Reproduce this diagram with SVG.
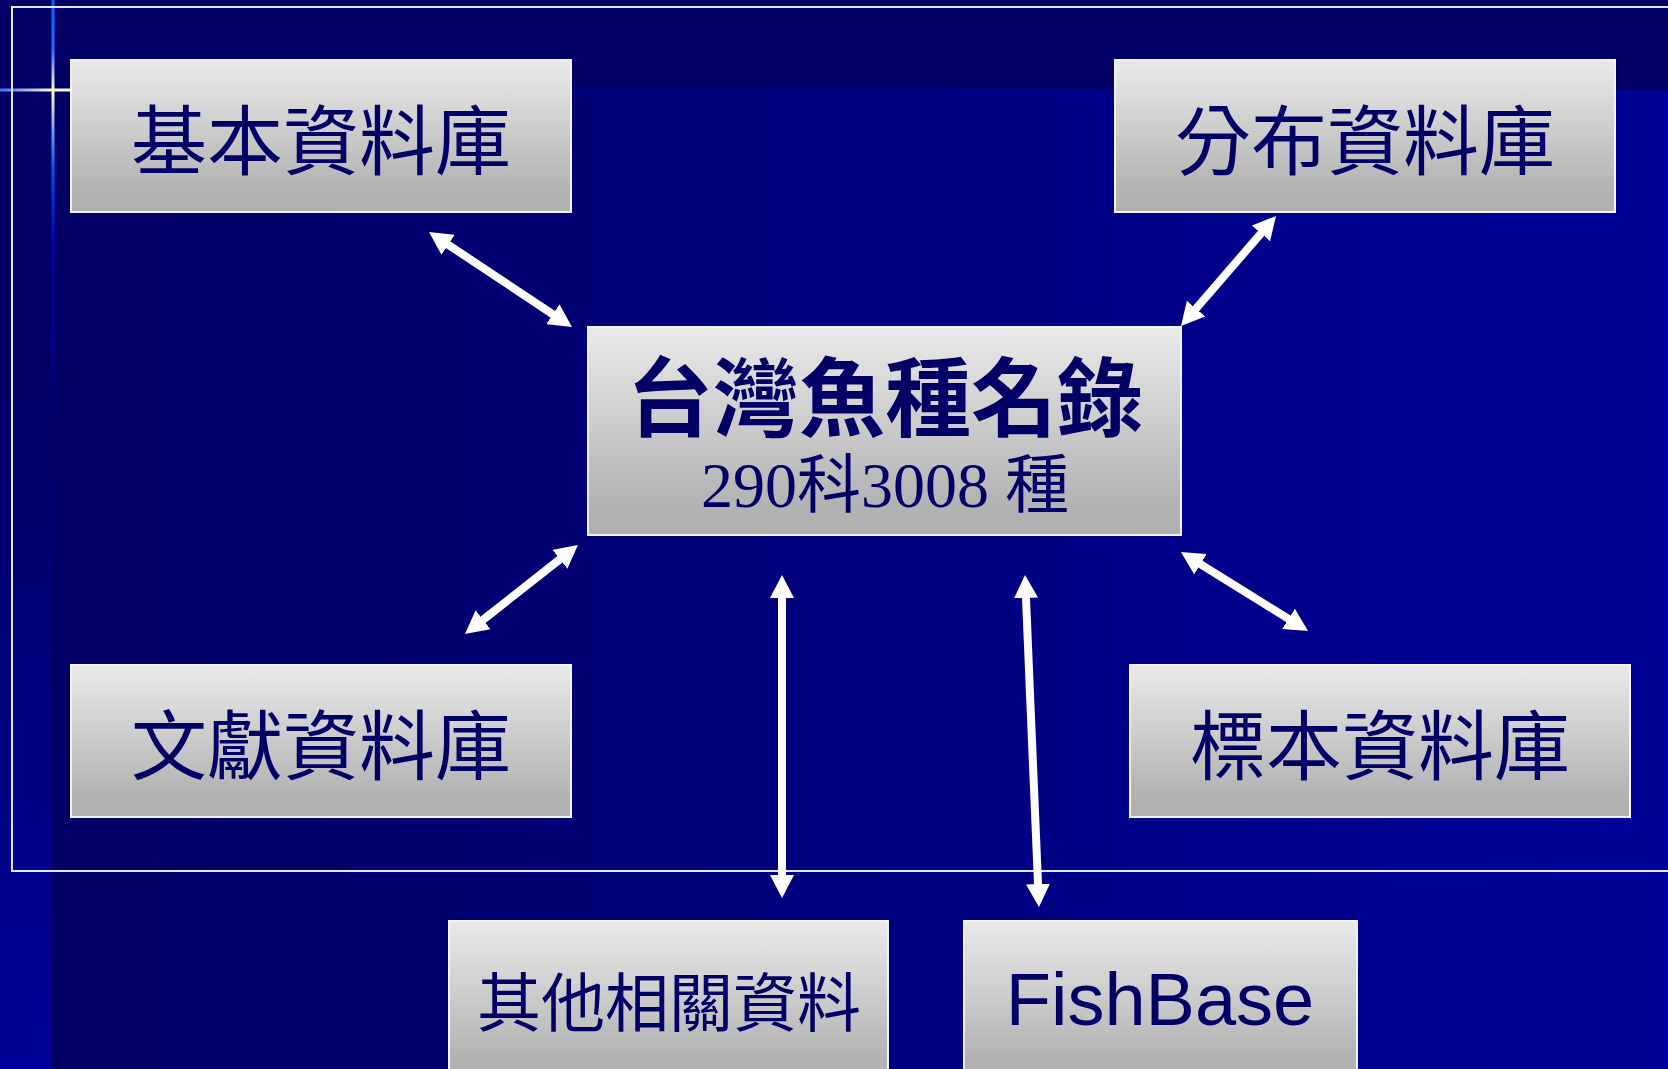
<svg xmlns="http://www.w3.org/2000/svg" width="1668" height="1069" viewBox="0 0 1668 1069">
  <defs>
    <linearGradient id="bgMain" x1="52" y1="0" x2="1668" y2="0" gradientUnits="userSpaceOnUse">
      <stop offset="0" stop-color="#000064"/>
      <stop offset="1" stop-color="#00009A"/>
    </linearGradient>
    <linearGradient id="bgLeft" x1="0" y1="0" x2="0" y2="1069" gradientUnits="userSpaceOnUse">
      <stop offset="0" stop-color="#000066"/>
      <stop offset="0.35" stop-color="#000066"/>
      <stop offset="1" stop-color="#00009A"/>
    </linearGradient>
    <linearGradient id="glowV" x1="0" y1="0" x2="0" y2="420" gradientUnits="userSpaceOnUse">
      <stop offset="0" stop-color="#0066FF"/>
      <stop offset="0.12" stop-color="#2A6CFF"/>
      <stop offset="0.215" stop-color="#FFFFC8"/>
      <stop offset="0.33" stop-color="#5A8CFF"/>
      <stop offset="0.4" stop-color="#0058F0"/>
      <stop offset="0.58" stop-color="#0000B0"/>
      <stop offset="1" stop-color="#000070"/>
    </linearGradient>
    <linearGradient id="glowH" x1="0" y1="0" x2="71" y2="0" gradientUnits="userSpaceOnUse">
      <stop offset="0" stop-color="#3D6CFF"/>
      <stop offset="0.75" stop-color="#FFFFC8"/>
      <stop offset="1" stop-color="#F0F0F0"/>
    </linearGradient>
    <linearGradient id="boxFill" x1="0" y1="0" x2="0" y2="1">
      <stop offset="0" stop-color="#EAEAEA"/>
      <stop offset="0.85" stop-color="#B3B3B3"/>
      <stop offset="1" stop-color="#B0B0B0"/>
    </linearGradient>
    <linearGradient id="boxFillTall" x1="0" y1="0" x2="0" y2="1">
      <stop offset="0" stop-color="#EAEAEA"/>
      <stop offset="0.8" stop-color="#B3B3B3"/>
      <stop offset="1" stop-color="#B0B0B0"/>
    </linearGradient>
    <marker id="ah" viewBox="0 0 23 24" refX="2" refY="12" markerWidth="23" markerHeight="24" markerUnits="userSpaceOnUse" orient="auto-start-reverse">
      <path d="M0,0 L23,12 L0,24 Z" fill="#FFFFFF"/>
    </marker>
  </defs>
  <style>
    .box { fill: url(#boxFill); stroke: #F2F2FA; stroke-width: 2; }
    .boxTall { fill: url(#boxFillTall); stroke: #F2F2FA; stroke-width: 2; }
    .cjk { font-family: "Noto Sans CJK TC", "Noto Sans CJK SC", sans-serif; fill: #000066; text-anchor: middle; }
    .lbl { font-size: 76px; }
    .title { font-size: 86px; font-weight: bold; }
    .sub { font-family: "Liberation Serif", "Noto Sans CJK TC", serif; font-size: 64px; fill: #000066; text-anchor: middle; }
    .latin { font-family: "Liberation Sans", Arial, sans-serif; font-size: 74px; fill: #000066; text-anchor: middle; }
    .arrow { stroke: #FFFFFF; stroke-width: 8; fill: none; marker-start: url(#ah); marker-end: url(#ah); }
  </style>

  <!-- background -->
  <g id="background">
    <rect x="0" y="0" width="1668" height="1069" fill="#000066"/>
    <rect x="52" y="90" width="1616" height="979" fill="url(#bgMain)"/>
    <rect x="0" y="0" width="52" height="1069" fill="url(#bgLeft)"/>
    <line x1="52" y1="90.5" x2="1668" y2="90.5" stroke="#000099" stroke-width="2" opacity="0.7"/>
    <rect x="51.5" y="0" width="3" height="420" fill="url(#glowV)"/>
    <rect x="0" y="88.5" width="71" height="3" fill="url(#glowH)"/>
    <rect x="12" y="7" width="1680" height="864" fill="none" stroke="#E6E6F4" stroke-width="2"/>
  </g>

  <!-- connectors -->
  <g id="connectors">
    <line class="arrow" x1="446.5" y1="243.6" x2="554.5" y2="315.4"/>
    <line class="arrow" x1="1262.3" y1="231.9" x2="1194.7" y2="310.1"/>
    <line class="arrow" x1="561.5" y1="558" x2="481.5" y2="621"/>
    <line class="arrow" x1="782" y1="596" x2="782" y2="877"/>
    <line class="arrow" x1="1025.9" y1="596" x2="1038.1" y2="886"/>
    <line class="arrow" x1="1198.8" y1="563.1" x2="1290.2" y2="619.9"/>
  </g>

  <!-- nodes -->
  <g id="node-basic">
    <rect class="box" x="71" y="60" width="500" height="152"/>
    <text class="cjk lbl" x="321" y="169">基本資料庫</text>
  </g>
  <g id="node-distribution">
    <rect class="box" x="1115" y="60" width="500" height="152"/>
    <text class="cjk lbl" x="1365" y="169">分布資料庫</text>
  </g>
  <g id="node-checklist">
    <rect class="box" x="588" y="327" width="593" height="208"/>
    <text class="cjk title" x="885" y="430">台灣魚種名錄</text>
    <text class="sub" x="885" y="507">290科3008 種</text>
  </g>
  <g id="node-literature">
    <rect class="box" x="71" y="665" width="500" height="152"/>
    <text class="cjk lbl" x="321" y="774">文獻資料庫</text>
  </g>
  <g id="node-specimen">
    <rect class="box" x="1130" y="665" width="500" height="152"/>
    <text class="cjk lbl" x="1380" y="774">標本資料庫</text>
  </g>
  <g id="node-other">
    <rect class="boxTall" x="449" y="921" width="439" height="170"/>
    <text class="cjk" style="font-size:64px" x="669" y="1026">其他相關資料</text>
  </g>
  <g id="node-fishbase">
    <rect class="boxTall" x="964" y="921" width="393" height="170"/>
    <text class="latin" x="1160" y="1025">FishBase</text>
  </g>
</svg>
